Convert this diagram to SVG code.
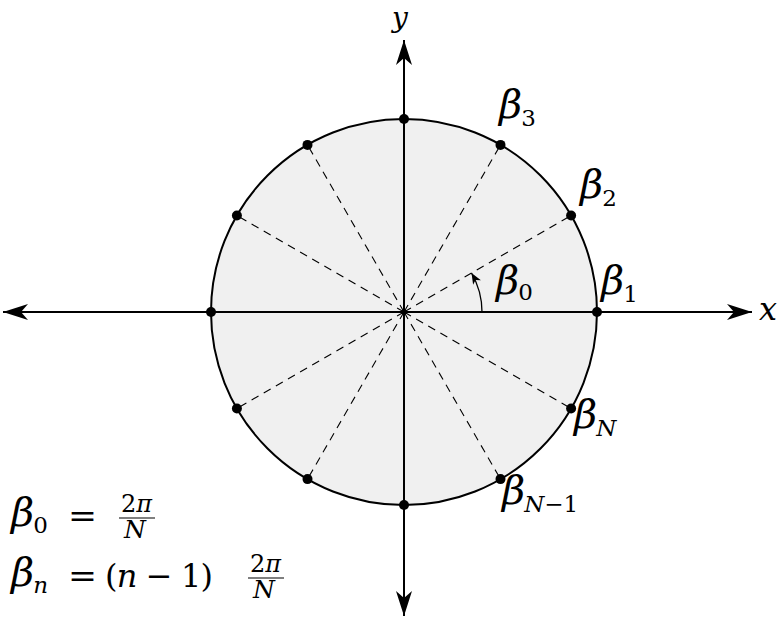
<svg xmlns="http://www.w3.org/2000/svg" width="784" height="619" viewBox="0 0 784 619">
<style>
.ax{stroke:#000;stroke-width:2;fill:none}
.dash{stroke:#000;stroke-width:1.1;stroke-dasharray:8 6;fill:none}
.pt{fill:#000}
text{font-family:"DejaVu Serif","Liberation Serif",serif;fill:#000}
.b{font-size:40px;font-style:italic}
.s{font-size:23px}
.si{font-size:23px;font-style:italic}
.m{font-size:32px}
.mi{font-size:32px;font-style:italic}
.f{font-size:24px}
.fi{font-size:24px;font-style:italic}
</style>
<defs>
<marker id="ah" markerUnits="userSpaceOnUse" markerWidth="30" markerHeight="20" viewBox="-26 -10 28 20" refX="0" refY="0" orient="auto">
<path d="M0,0 L-25,-8 L-18,0 L-25,8 Z" fill="#000"/>
</marker>
<marker id="sa" markerUnits="userSpaceOnUse" markerWidth="14" markerHeight="12" viewBox="-12 -6 13 12" refX="0" refY="0" orient="auto">
<path d="M0,0 L-11,-4.5 L-8,0 L-11,4.5 Z" fill="#000"/>
</marker>
</defs>
<g id="disk">
<circle cx="404" cy="312" r="193" fill="#f0f0f0" stroke="#000" stroke-width="2"/>
</g>
<g id="connectors">
<path class="dash" d="M404,312 L571.1,215.5 M404,312 L500.5,144.9 M404,312 L307.5,144.9 M404,312 L236.9,215.5 M404,312 L236.9,408.5 M404,312 L307.5,479.1 M404,312 L500.5,479.1 M404,312 L571.1,408.5"/>
<line class="ax" x1="404" y1="312" x2="752" y2="312" marker-end="url(#ah)"/>
<line class="ax" x1="404" y1="312" x2="3" y2="312" marker-end="url(#ah)"/>
<line class="ax" x1="404" y1="312" x2="404" y2="40" marker-end="url(#ah)"/>
<line class="ax" x1="404" y1="312" x2="404" y2="616" marker-end="url(#ah)"/>
<path d="M482,312 A78,78 0 0 0 471.5,273" stroke="#000" stroke-width="1.3" fill="none" marker-end="url(#sa)"/>
</g>
<g id="points">
<circle class="pt" cx="597" cy="312" r="5"/>
<circle class="pt" cx="571.1" cy="215.5" r="5"/>
<circle class="pt" cx="500.5" cy="144.9" r="5"/>
<circle class="pt" cx="404" cy="119" r="5"/>
<circle class="pt" cx="307.5" cy="144.9" r="5"/>
<circle class="pt" cx="236.9" cy="215.5" r="5"/>
<circle class="pt" cx="211" cy="312" r="5"/>
<circle class="pt" cx="236.9" cy="408.5" r="5"/>
<circle class="pt" cx="307.5" cy="479.1" r="5"/>
<circle class="pt" cx="404" cy="505" r="5"/>
<circle class="pt" cx="500.5" cy="479.1" r="5"/>
<circle class="pt" cx="571.1" cy="408.5" r="5"/>
</g>
<g id="labels">
<text class="mi" x="392" y="27" style="font-size:28px">y</text>
<text class="mi" x="759" y="320">x</text>
<text x="496" y="294"><tspan class="b">β</tspan><tspan class="s" dy="6" dx="-1">0</tspan></text>
<text x="601" y="294"><tspan class="b">β</tspan><tspan class="s" dy="8" dx="-1">1</tspan></text>
<text x="580" y="198"><tspan class="b">β</tspan><tspan class="s" dy="8" dx="-1">2</tspan></text>
<text x="499" y="118"><tspan class="b">β</tspan><tspan class="s" dy="8" dx="-1">3</tspan></text>
<text x="574" y="428"><tspan class="b">β</tspan><tspan class="si" dy="8" dx="-1">N</tspan></text>
<text x="502" y="504"><tspan class="b">β</tspan><tspan class="si" dy="8" dx="-1">N</tspan><tspan class="s">−1</tspan></text>
<text x="11" y="526"><tspan class="b">β</tspan><tspan class="s" dy="7" dx="-1">0</tspan></text>
<text class="m" x="68" y="527" textLength="29" lengthAdjust="spacingAndGlyphs">=</text>
<text class="f" x="121" y="512">2<tspan class="fi">π</tspan></text>
<line x1="119" y1="518" x2="155" y2="518" stroke="#000" stroke-width="1.2"/>
<text class="fi" style="font-size:25px" x="124" y="538">N</text>
<text x="11" y="586"><tspan class="b">β</tspan><tspan class="si" dy="7" dx="-1">n</tspan></text>
<text class="m" x="68" y="587" textLength="29" lengthAdjust="spacingAndGlyphs">=</text>
<text class="m" x="105" y="587" textLength="108" lengthAdjust="spacing">(<tspan class="mi">n</tspan> − 1)</text>
<text class="f" x="250" y="572">2<tspan class="fi">π</tspan></text>
<line x1="248" y1="578" x2="284" y2="578" stroke="#000" stroke-width="1.2"/>
<text class="fi" style="font-size:25px" x="253" y="598">N</text>
</g>
</svg>
